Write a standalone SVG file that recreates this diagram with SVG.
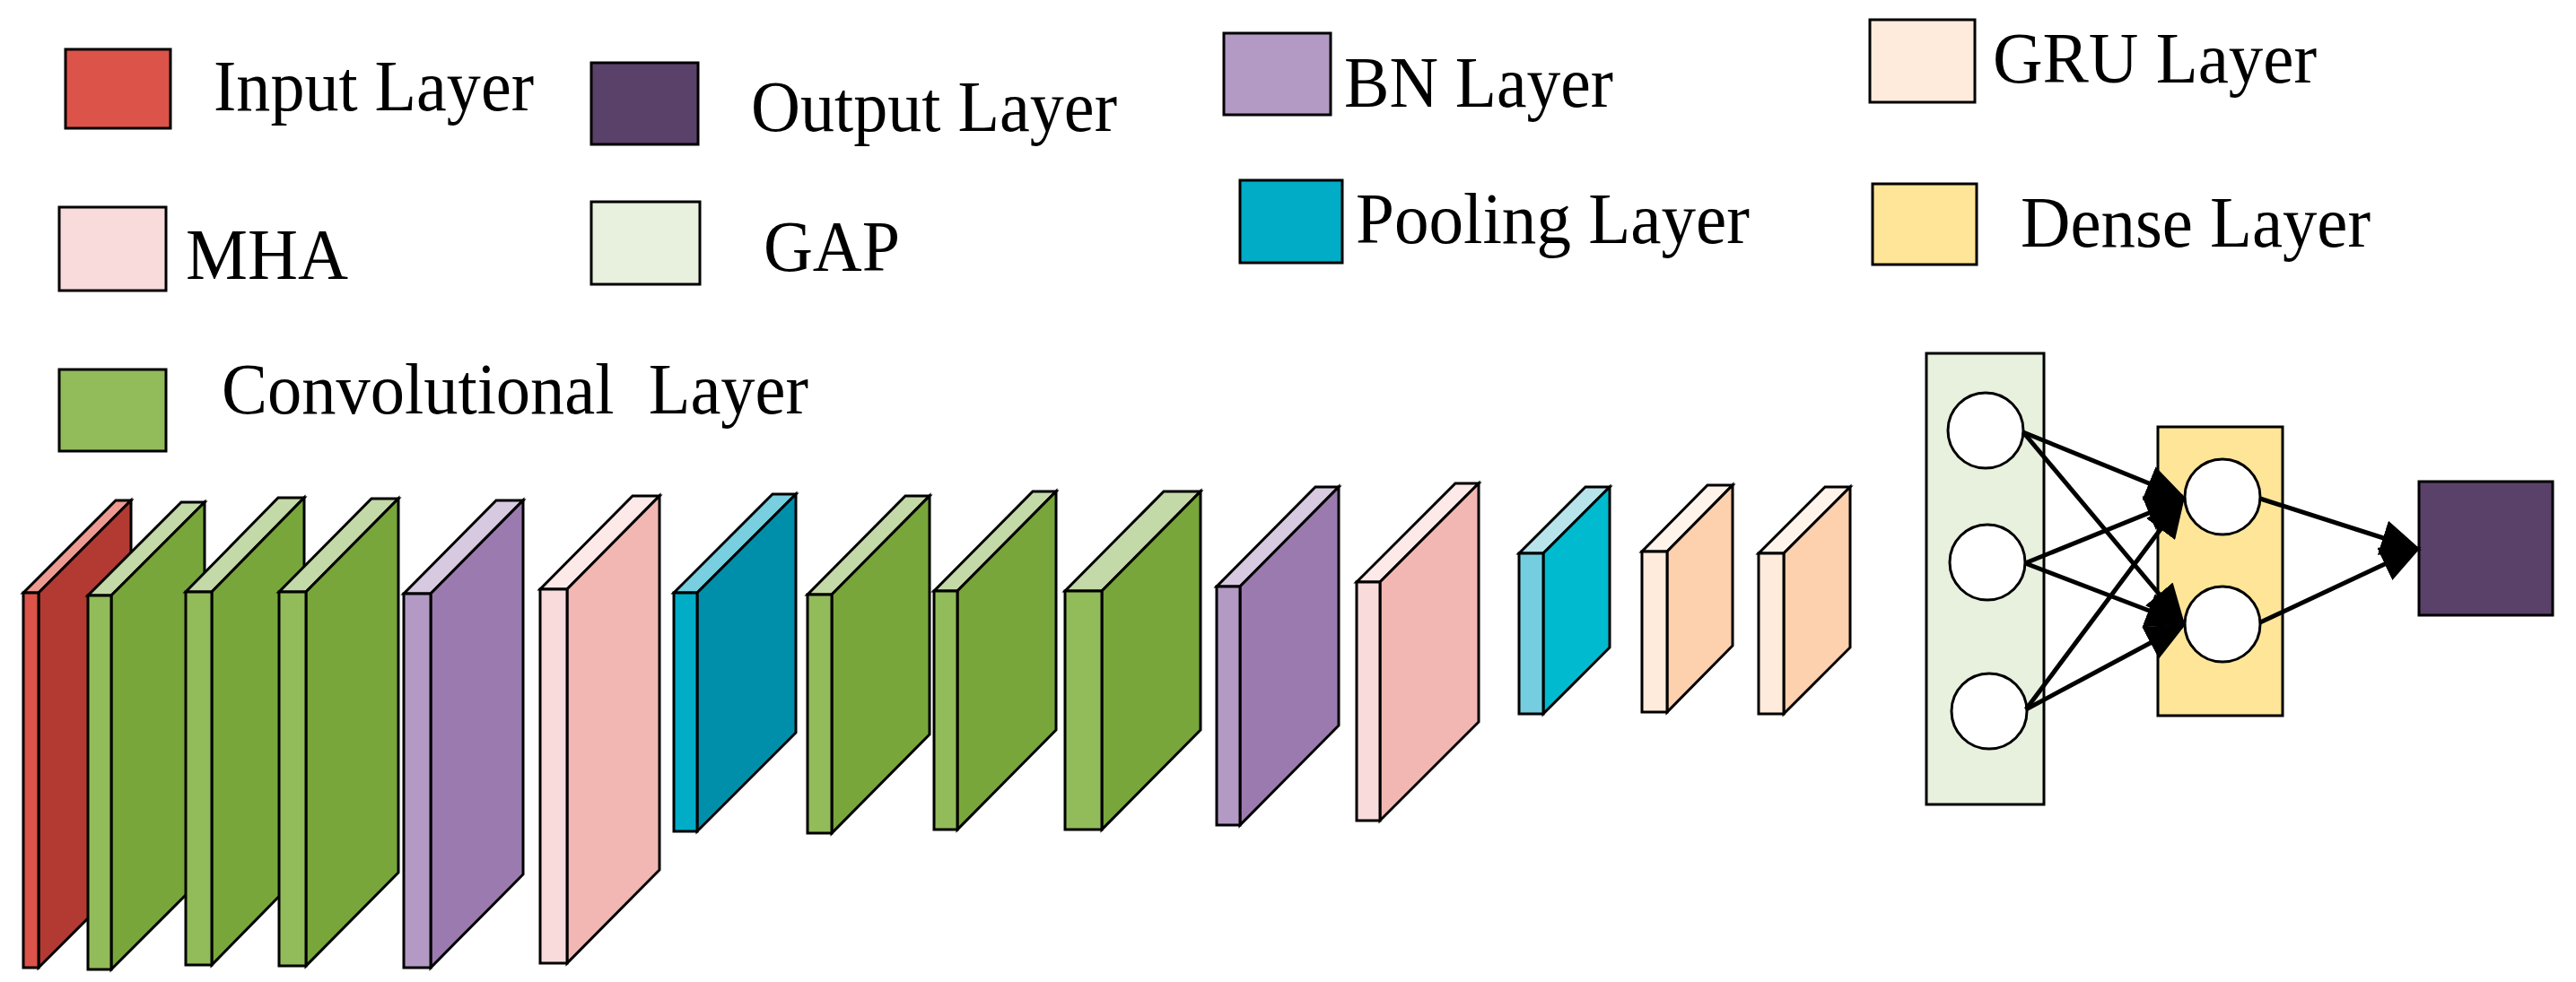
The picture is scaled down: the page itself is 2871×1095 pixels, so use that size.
<svg xmlns="http://www.w3.org/2000/svg" width="2871" height="1095" viewBox="0 0 2871 1095">
<style>
.s{stroke:#000;stroke-width:3;stroke-linejoin:miter}
.t{font-family:"Liberation Serif","Times New Roman",serif;font-size:80px;fill:#000}
.c{fill:#fff;stroke:#000;stroke-width:3}
.a{stroke:#000;stroke-width:5;fill:none;marker-end:url(#ah)}
</style>
<defs>
<marker id="ah" markerWidth="9" markerHeight="8" refX="8" refY="4" orient="auto" markerUnits="strokeWidth">
<path d="M0,0 L9,4 L0,8 z" fill="#000"/>
</marker>
</defs>
<rect width="2871" height="1095" fill="#fff"/>
<g id="legend">
<rect class="s" x="73" y="55" width="117" height="88" fill="#dc5349"/><text class="t" x="238" y="123" textLength="357" lengthAdjust="spacingAndGlyphs">Input Layer</text>
<rect class="s" x="659" y="70" width="119" height="91" fill="#5a4169"/><text class="t" x="837" y="146" textLength="408" lengthAdjust="spacingAndGlyphs">Output Layer</text>
<rect class="s" x="66" y="231" width="119" height="93" fill="#f9dbdb"/><text class="t" x="207" y="311" textLength="181" lengthAdjust="spacingAndGlyphs">MHA</text>
<rect class="s" x="659" y="225" width="121" height="92" fill="#e8f0de"/><text class="t" x="851" y="302" textLength="152" lengthAdjust="spacingAndGlyphs">GAP</text>
<rect class="s" x="66" y="412" width="119" height="91" fill="#92bb5a"/><text class="t" x="247" y="461" textLength="654" lengthAdjust="spacingAndGlyphs" xml:space="preserve">Convolutional  Layer</text>
<rect class="s" x="1364" y="37" width="119" height="91" fill="#b39ac4"/><text class="t" x="1498" y="119" textLength="300" lengthAdjust="spacingAndGlyphs">BN Layer</text>
<rect class="s" x="1382" y="201" width="114" height="92" fill="#00acc6"/><text class="t" x="1511" y="271" textLength="439" lengthAdjust="spacingAndGlyphs">Pooling Layer</text>
<rect class="s" x="2084" y="22" width="117" height="92" fill="#ffebdc"/><text class="t" x="2221" y="92" textLength="361" lengthAdjust="spacingAndGlyphs">GRU Layer</text>
<rect class="s" x="2087" y="205" width="116" height="90" fill="#fee598"/><text class="t" x="2252" y="275" textLength="390" lengthAdjust="spacingAndGlyphs">Dense Layer</text>
</g>
<g id="input">
<polygon class="s" fill="#ec9a92" points="26,661 43,661 146,558 129,558"/>
<polygon class="s" fill="#b23a32" points="43,661 146,558 146,976 43,1079"/>
<rect class="s" fill="#dc5349" x="26" y="661" width="17" height="418"/>
</g>
<g id="conv1">
<polygon class="s" fill="#c3d9a8" points="98,664 124,664 228,560 202,560"/>
<polygon class="s" fill="#78a63a" points="124,664 228,560 228,977 124,1081"/>
<rect class="s" fill="#92bb5a" x="98" y="664" width="26" height="417"/>
</g>
<g id="conv2">
<polygon class="s" fill="#c3d9a8" points="207,660 236,660 339,555 310,555"/>
<polygon class="s" fill="#78a63a" points="236,660 339,555 339,971 236,1076"/>
<rect class="s" fill="#92bb5a" x="207" y="660" width="29" height="416"/>
</g>
<g id="conv3">
<polygon class="s" fill="#c3d9a8" points="311,660 341,660 444,556 414,556"/>
<polygon class="s" fill="#78a63a" points="341,660 444,556 444,973 341,1077"/>
<rect class="s" fill="#92bb5a" x="311" y="660" width="30" height="417"/>
</g>
<g id="bn1">
<polygon class="s" fill="#d6c9e0" points="450,662 480,662 583,558 553,558"/>
<polygon class="s" fill="#9b7baf" points="480,662 583,558 583,975 480,1079"/>
<rect class="s" fill="#b39ac4" x="450" y="662" width="30" height="417"/>
</g>
<g id="mha1">
<polygon class="s" fill="#fde9e8" points="602,657 632,657 735,553 705,553"/>
<polygon class="s" fill="#f2b7b3" points="632,657 735,553 735,970 632,1074"/>
<rect class="s" fill="#f9dbdb" x="602" y="657" width="30" height="417"/>
</g>
<g id="pool1">
<polygon class="s" fill="#77cfe0" points="751,661 777,661 887,551 861,551"/>
<polygon class="s" fill="#008faa" points="777,661 887,551 887,817 777,927"/>
<rect class="s" fill="#00acc6" x="751" y="661" width="26" height="266"/>
</g>
<g id="conv4">
<polygon class="s" fill="#c3d9a8" points="900,663 927,663 1036,553 1009,553"/>
<polygon class="s" fill="#78a63a" points="927,663 1036,553 1036,819 927,929"/>
<rect class="s" fill="#92bb5a" x="900" y="663" width="27" height="266"/>
</g>
<g id="conv5">
<polygon class="s" fill="#c3d9a8" points="1041,659 1067,659 1177,548 1151,548"/>
<polygon class="s" fill="#78a63a" points="1067,659 1177,548 1177,814 1067,925"/>
<rect class="s" fill="#92bb5a" x="1041" y="659" width="26" height="266"/>
</g>
<g id="conv6">
<polygon class="s" fill="#c3d9a8" points="1187,659 1228,659 1338,548 1297,548"/>
<polygon class="s" fill="#78a63a" points="1228,659 1338,548 1338,814 1228,925"/>
<rect class="s" fill="#92bb5a" x="1187" y="659" width="41" height="266"/>
</g>
<g id="bn2">
<polygon class="s" fill="#d6c9e0" points="1356,654 1382,654 1492,543 1466,543"/>
<polygon class="s" fill="#9b7baf" points="1382,654 1492,543 1492,809 1382,920"/>
<rect class="s" fill="#b39ac4" x="1356" y="654" width="26" height="266"/>
</g>
<g id="mha2">
<polygon class="s" fill="#fde9e8" points="1512,649 1538,649 1648,539 1622,539"/>
<polygon class="s" fill="#f2b7b3" points="1538,649 1648,539 1648,805 1538,915"/>
<rect class="s" fill="#f9dbdb" x="1512" y="649" width="26" height="266"/>
</g>
<g id="pool2">
<polygon class="s" fill="#b7e3ea" points="1693,617 1720,617 1794,543 1767,543"/>
<polygon class="s" fill="#00bacf" points="1720,617 1794,543 1794,722 1720,796"/>
<rect class="s" fill="#75cedf" x="1693" y="617" width="27" height="179"/>
</g>
<g id="gru1">
<polygon class="s" fill="#fff3ea" points="1830,615 1858,615 1931,541 1903,541"/>
<polygon class="s" fill="#fdd0ae" points="1858,615 1931,541 1931,720 1858,794"/>
<rect class="s" fill="#ffebdc" x="1830" y="615" width="28" height="179"/>
</g>
<g id="gru2">
<polygon class="s" fill="#fff3ea" points="1960,617 1988,617 2062,543 2034,543"/>
<polygon class="s" fill="#fdd0ae" points="1988,617 2062,543 2062,722 1988,796"/>
<rect class="s" fill="#ffebdc" x="1960" y="617" width="28" height="179"/>
</g>
<g id="gap">
<rect class="s" fill="#e8f0de" x="2147" y="394" width="131" height="503"/>
<circle class="c" cx="2213" cy="480" r="42"/>
<circle class="c" cx="2215" cy="627" r="42"/>
<circle class="c" cx="2217" cy="793" r="42"/>
</g>
<g id="dense">
<rect class="s" fill="#fee598" x="2405" y="476" width="139" height="322"/>
<circle class="c" cx="2477" cy="554" r="42"/>
<circle class="c" cx="2477" cy="696" r="42"/>
</g>
<g id="output">
<rect class="s" fill="#5a4169" x="2696" y="537" width="149" height="149"/>
</g>
<g id="connectors">
<line class="a" x1="2255" y1="482" x2="2432" y2="554"/>
<line class="a" x1="2255" y1="482" x2="2432" y2="693"/>
<line class="a" x1="2257" y1="628" x2="2432" y2="557"/>
<line class="a" x1="2257" y1="628" x2="2432" y2="695"/>
<line class="a" x1="2258" y1="791" x2="2432" y2="558"/>
<line class="a" x1="2258" y1="791" x2="2432" y2="698"/>
<line class="a" x1="2519" y1="556" x2="2694" y2="612"/>
<line class="a" x1="2519" y1="694" x2="2694" y2="612"/>
</g>
</svg>
